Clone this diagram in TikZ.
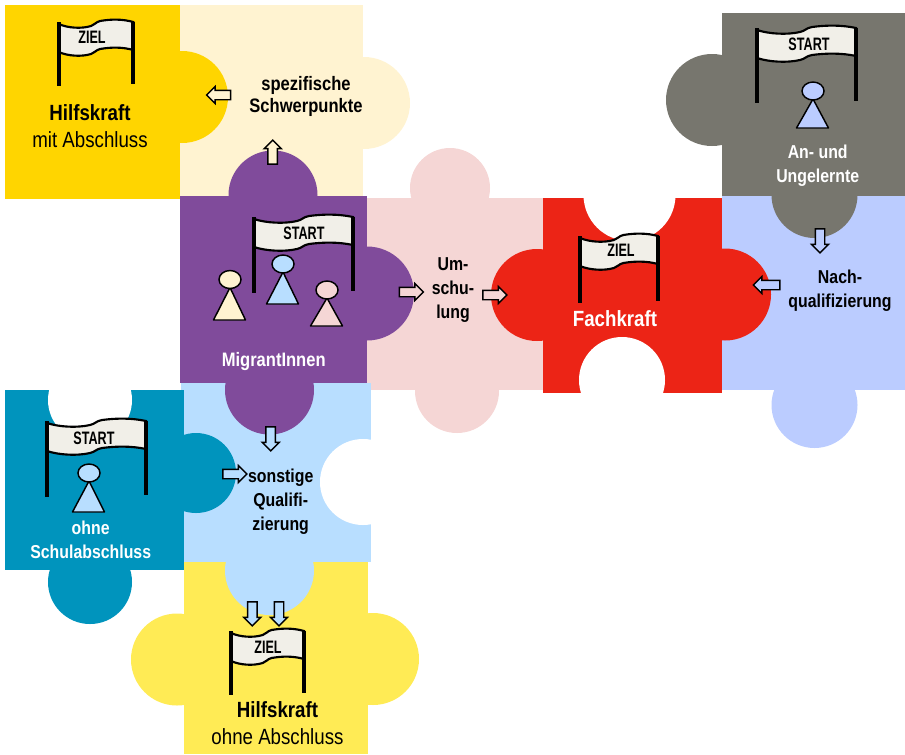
\documentclass[tikz,border=0pt]{standalone}
\usepackage{fontspec}
\setmainfont{Liberation Sans}
\newfontfamily\labelfont[FakeStretch=0.85]{Liberation Sans}
\newfontfamily\flagfont[FakeStretch=0.7]{Liberation Sans}
\usetikzlibrary{shapes.arrows}

\definecolor{goldpc}{HTML}{FFD500}
\definecolor{creampc}{HTML}{FFF3D1}
\definecolor{purplepc}{HTML}{804B9B}
\definecolor{pinkpc}{HTML}{F5D6D5}
\definecolor{redpc}{HTML}{EC2416}
\definecolor{lavenderpc}{HTML}{BBCCFF}
\definecolor{greypc}{HTML}{77766E}
\definecolor{tealpc}{HTML}{0094BD}
\definecolor{skypc}{HTML}{B8DEFF}
\definecolor{lemonpc}{HTML}{FFEB55}
\definecolor{bannerpc}{HTML}{F1EFE8}

\tikzset{
  blockarrow/.style={draw=black,line width=1.1pt,single arrow,single arrow head extend=2.8pt,
    single arrow head indent=0pt,minimum width=11.6pt,minimum height=18pt,inner sep=3pt,inner xsep=0pt},
  bigbold/.style={font=\labelfont\fontsize{16.5}{20.2}\selectfont,align=center,inner sep=0pt},
  midbold/.style={font=\labelfont\bfseries\fontsize{14}{18}\selectfont,align=center,inner sep=0pt},
  widebold/.style={font=\labelfont\bfseries\fontsize{14.6}{16.5}\selectfont,align=center,inner sep=0pt},
  flagtext/.style={font=\flagfont\bfseries\fontsize{13.5}{14}\selectfont,inner sep=0pt}
}

\newcommand{\flagpair}[8]{
  \begin{scope}[shift={(#2,#3)},xscale=#4/99]
    \filldraw[fill=bannerpc,draw=black,line width=1.6pt] (0,0) .. controls (12,4) and (30,5) .. (43,2)
      .. controls (48,1) and (49,-2) .. (55,-3) .. controls (70,-5) and (85,-5) .. (99,-2) -- (99,26)
      .. controls (85,23) and (70,23) .. (55,25) .. controls (49,26) and (48,29) .. (43,30)
      .. controls (30,33) and (12,32) .. (0,28) -- cycle;
    \draw[line width=3.2pt] (0,-2) -- (0,#5);
    \draw[line width=3.2pt] (99,-2) -- (99,#5-2);
  \end{scope}
  \node[flagtext] (#1) at (#6,#7) {#8};
}
\newcommand{\pawn}[4]{
  \begin{scope}[shift={(#1,#2)}]
    \filldraw[fill=#3,draw=black,line width=1.1pt,line join=round] (0,8) -- (-16.5,#4) -- (15.5,#4) -- cycle;
    \filldraw[fill=#3,draw=black,line width=1.1pt] (0,0) ellipse (11 and 9);
  \end{scope}
}

\begin{document}
\begin{tikzpicture}[x=0.75pt,y=-0.75pt]
\useasboundingbox (0,0) rectangle (905,754);

\fill[creampc] (180,5) rectangle (363,196);
\fill[creampc] (364,103) circle (46);
\fill[goldpc] (5,5) rectangle (180,199);
\fill[goldpc] (182,97) circle (46);

\fill[pinkpc] (360,198) rectangle (543,390);
\fill[pinkpc] (450,188) circle (40);
\fill[pinkpc] (457,391) circle (42);

\fill[lavenderpc] (722,196) rectangle (905,390);
\fill[lavenderpc] (814.5,405) circle (43);

\fill[redpc] (543,198) rectangle (722,393);
\fill[redpc] (537,295) circle (46);
\fill[redpc] (725,294.5) circle (46);
\fill[white] (629.5,195) circle (46);
\fill[white] (622,380) circle (43);

\fill[greypc] (722,13) rectangle (905,196);
\fill[greypc] (712,100) circle (46);
\fill[greypc] (814.5,195) circle (43);

\fill[lemonpc] (184,561) rectangle (368,754);
\fill[lemonpc] (177,659.5) circle (46);
\fill[lemonpc] (373,659) circle (46);

\fill[skypc] (181,383) rectangle (371,562);
\fill[skypc] (269.5,570.5) circle (44.5);
\fill[white] (363,482) circle (43);

\fill[tealpc] (5,390) rectangle (184,570);
\fill[tealpc] (196,473) circle (40);
\fill[tealpc] (90,582) circle (42);
\fill[white] (90,400) circle (42);

\fill[purplepc] (180,196) rectangle (367,383);
\fill[purplepc] (273,195) circle (44.5);
\fill[purplepc] (367,293.5) circle (47);
\fill[purplepc] (269.5,390) circle (44.5);

\flagpair{zielgold}{58.7}{24}{74.5}{62}{92}{37}{ZIEL}
\flagpair{startgrey}{757}{30}{99}{73}{809}{44}{START}
\flagpair{startpurple}{254}{219}{99}{74}{304}{233}{START}
\flagpair{zielred}{580}{238}{78}{65}{621}{250}{ZIEL}
\flagpair{startteal}{47}{423}{99}{74}{94}{438}{START}
\flagpair{ziellemon}{231}{633}{73}{62}{268}{647}{ZIEL}

\pawn{230}{279.5}{creampc}{40.5}
\pawn{283}{264}{skypc}{40}
\pawn{327}{290}{pinkpc}{36}
\pawn{89}{473}{skypc}{39}
\pawn{813}{91}{lavenderpc}{37}

\node[blockarrow,fill=creampc,rotate=180] (toGold) at (221,95) {};
\node[blockarrow,fill=creampc,rotate=90] (toCream) at (272.7,154.5) {};
\node[blockarrow,fill=pinkpc] (toPink) at (409,292) {};
\node[blockarrow,fill=pinkpc] (toRed) at (492.5,295) {};
\node[blockarrow,fill=lavenderpc,rotate=180,minimum height=20pt] (fromLavender) at (769,285) {};
\node[blockarrow,fill=lavenderpc,rotate=-90] (toLavender) at (820,238.5) {};
\node[blockarrow,fill=skypc,rotate=-90] (toSky) at (270.7,436.5) {};
\node[blockarrow,fill=skypc] (fromTeal) at (232.5,474) {};
\node[blockarrow,fill=skypc,rotate=-90] (toLemonA) at (252.3,611.5) {};
\node[blockarrow,fill=skypc,rotate=-90] (toLemonB) at (279,611.5) {};

\node[bigbold] (hilfMit) at (90,126.5) {\textbf{Hilfskraft}\\mit Abschluss};
\node[widebold] (schwerpunkte) at (306,96.5) {spezifische\\Schwerpunkte};
\node[widebold,text=white] (migrant) at (273.7,361) {MigrantInnen};
\node[midbold] (umschulung) at (453,290) {Um-\\schu-\\lung};
\node[bigbold,text=white] (fachkraft) at (615,318.5) {\textbf{Fachkraft}};
\node[midbold,text=white] (ungelernte) at (817.7,165.5) {An- und\\Ungelernte};
\node[midbold] (nachquali) at (840,291) {Nach-\\qualifizierung};
\node[midbold] (sonstige) at (280.7,501.5) {sonstige\\Qualifi-\\zierung};
\node[midbold,text=white] (ohneSchule) at (90.7,539.5) {ohne\\Schulabschluss};
\node[bigbold] (hilfOhne) at (277.5,723.5) {\textbf{Hilfskraft}\\ohne Abschluss};

\end{tikzpicture}
\end{document}
